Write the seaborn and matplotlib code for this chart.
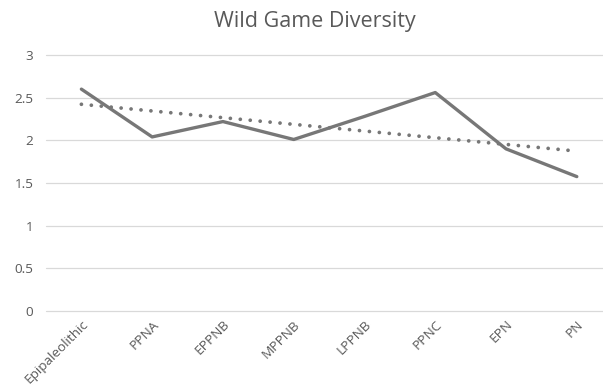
import matplotlib
matplotlib.use("Agg")
import matplotlib.pyplot as plt
import numpy as np
import pandas as pd
import seaborn as sns

# Wild game diversity index per period
periods = ["Epipaleolithic", "PPNA", "EPPNB", "MPPNB", "LPPNB", "PPNC", "EPN", "PN"]
diversity = [2.60, 2.04, 2.22, 2.01, 2.28, 2.56, 1.90, 1.575]
y_ticks = [0, 0.5, 1, 1.5, 2, 2.5, 3]
y_tick_labels = ["0", "0.5", "1", "1.5", "2", "2.5", "3"]

df = pd.DataFrame({"pos": np.arange(len(periods)), "period": periods, "diversity": diversity})

sns.set_theme(style="white")
plt.rcParams["font.family"] = ["Open Sans", "DejaVu Sans"]

text_color = "#595959"
line_color = "#777777"
grid_color = "#d9d9d9"

fig = plt.figure(figsize=(6.03, 3.92), dpi=100)
ax = fig.add_axes([46 / 603, (392 - 311) / 392, 1 - 46 / 603, (311 - 55) / 392])

# horizontal gridlines
for t in y_ticks:
    ax.axhline(t, color=grid_color, lw=0.9, zorder=0, clip_on=False)

# linear trendline
sns.regplot(data=df, x="pos", y="diversity", ax=ax, ci=None, scatter=False,
            line_kws=dict(color=line_color, lw=2.7, linestyle=(0, (0.01, 2.65)),
                          dash_capstyle="round", zorder=2))

# observed series
sns.lineplot(data=df, x="pos", y="diversity", ax=ax, color=line_color, lw=2.4,
             zorder=3)

ax.set_xlim(-0.5, 7.37)
ax.set_ylim(0, 3)
ax.set_xticks(df["pos"])
ax.set_xticklabels(periods, rotation=45, ha="right", rotation_mode="anchor",
                   fontsize=9.7, color=text_color)
ax.set_yticks(y_ticks)
ax.set_yticklabels(y_tick_labels, fontsize=9.7, color=text_color)
ax.tick_params(axis="y", length=0, pad=9)
ax.tick_params(axis="x", length=0, pad=5)
ax.set_xlabel("")
ax.set_ylabel("")
ax.grid(False)
for s in ax.spines.values():
    s.set_visible(False)

fig.text(315 / 603, 1 - 21 / 392, "Wild Game Diversity", ha="center", va="center",
         fontsize=15.5, color=text_color)

fig.savefig("out.png", dpi=100, facecolor="white")
